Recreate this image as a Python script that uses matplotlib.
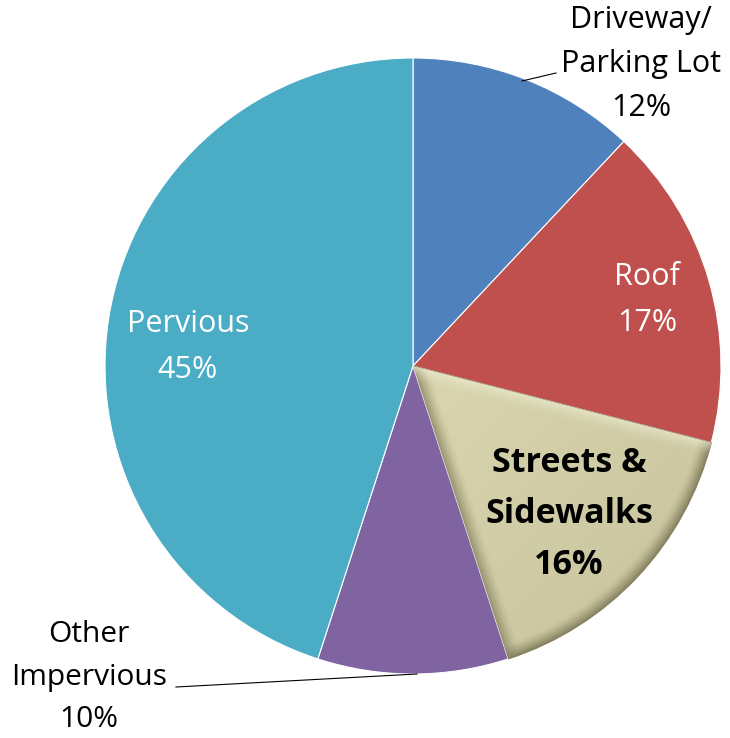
import matplotlib.pyplot as plt
import matplotlib.colors as mcolors
import numpy as np

labels = ['Driveway/\nParking Lot', 'Roof', 'Streets &\nSidewalks', 'Other\nImpervious', 'Pervious']
shares = [12, 17, 16, 10, 45]
colors = ['#4F81BD', '#C0504D', '#D0CBA0', '#8064A2', '#4BACC6']

W, H = 730, 738
cx, cy, R = 413, H - 366, 308

fig = plt.figure(figsize=(W / 100, H / 100), dpi=100)
ax = fig.add_axes([0, 0, 1, 1])
ax.axis('off')

explode = [0, 0, 0.008, 0, 0]
wedges, _ = ax.pie(shares, colors=colors, startangle=90, counterclock=False,
                   radius=R, center=(cx, cy), explode=explode,
                   wedgeprops=dict(linewidth=0.8, edgecolor='white'))

# bevel-like shading on the streets wedge
w = wedges[2]
w.set_edgecolor('#8a8566')
w.set_linewidth(0.8)
ccx, ccy = w.center
t1, t2 = np.deg2rad(w.theta1), np.deg2rad(w.theta2)
x0, x1 = ccx - 5, ccx + R + 5
y0, y1 = ccy - R - 5, ccy + 5
xx, yy = np.meshgrid(np.linspace(x0, x1, 400), np.linspace(y0, y1, 400))
rr = np.hypot(xx - ccx, yy - ccy) / R
th = np.arctan2(yy - ccy, xx - ccx)
d_top = np.abs(np.sin(th - t2)) * rr * R
d_bot = np.abs(np.sin(th - t1)) * rr * R
d_arc = (1 - rr) * R
bev = 15.0
light = np.array(mcolors.to_rgb('#DAD6AF'))
dark = np.array(mcolors.to_rgb('#85805E'))
hi = np.array(mcolors.to_rgb('#F0EED6'))
img = np.tile(light, (400, 400, 1))
g = ((xx - x0) / (x1 - x0) * 0.5 + (y1 - yy) / (y1 - y0) * 0.5)[..., None]
img = img * (1 - 0.25 * g) + dark * 0.25 * g
f_arc = np.clip(1 - d_arc / bev, 0, 1)[..., None] ** 1.5
img = img * (1 - f_arc) + dark * f_arc
f_bot = np.clip(1 - d_bot / bev, 0, 1)[..., None] ** 1.5
img = img * (1 - 0.75 * f_bot) + dark * 0.75 * f_bot
f_top = np.clip(1 - d_top / bev, 0, 1)[..., None] ** 1.5
img = img * (1 - 0.6 * f_top) + hi * 0.6 * f_top
im = ax.imshow(np.clip(img, 0, 1), extent=(x0, x1, y0, y1), origin='lower',
               interpolation='bilinear', zorder=w.get_zorder() + 0.1)
im.set_clip_path(w)

ax.set_xlim(0, W)
ax.set_ylim(0, H)
ax.set_aspect('equal')

font = 'Open Sans'
fs = 22
ls = 1.68

def P(x, y):
    return x, H - y

ax.text(*P(188, 347), 'Pervious\n45%', color='white', fontsize=fs, family=font,
        ha='center', va='center', linespacing=ls, zorder=5)
ax.text(*P(647, 300), 'Roof\n17%', color='white', fontsize=fs, family=font,
        ha='center', va='center', linespacing=ls, zorder=5)
ax.text(*P(569, 514), 'Streets &\nSidewalks\n16%', color='black', fontsize=24.5,
        fontweight='bold', family=font, ha='center', va='center',
        linespacing=1.64, zorder=5)
ax.text(*P(641, 64), 'Driveway/\nParking Lot\n12%', color='black', fontsize=fs,
        family=font, ha='center', va='center', linespacing=1.62, zorder=5)
ax.text(*P(89, 677), 'Other\nImpervious\n10%', color='black', fontsize=21.5,
        family=font, ha='center', va='center', linespacing=1.62, zorder=5)

ax.plot([P(522, 81)[0], P(556, 73)[0]], [P(522, 81)[1], P(556, 73)[1]],
        color='black', lw=0.8, zorder=5)
ax.plot([P(176, 687)[0], P(417, 674)[0]], [P(176, 687)[1], P(417, 674)[1]],
        color='black', lw=0.8, zorder=5)

fig.savefig('out.png', dpi=100)
